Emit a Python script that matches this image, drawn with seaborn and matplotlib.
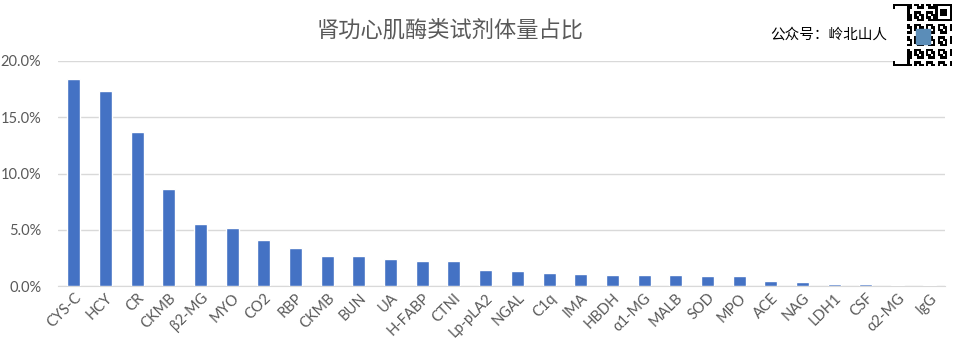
import numpy as np
import pandas as pd
import matplotlib
matplotlib.use("Agg")
import matplotlib.pyplot as plt
import seaborn as sns
from matplotlib.ticker import PercentFormatter

items = ["CYS-C", "HCY", "CR", "CKMB", "β2-MG", "MYO", "CO2", "RBP", "CKMB ", "BUN",
         "UA", "H-FABP", "CTNI", "Lp-pLA2", "NGAL", "C1q", "IMA", "HBDH", "α1-MG", "MALB",
         "SOD", "MPO", "ACE", "NAG", "LDH1", "CSF", "α2-MG", "IgG"]
share = [18.4, 17.3, 13.7, 8.6, 5.5, 5.2, 4.1, 3.4, 2.7, 2.7,
         2.4, 2.2, 2.2, 1.44, 1.35, 1.17, 1.08, 0.99, 0.99, 0.99,
         0.9, 0.9, 0.45, 0.36, 0.18, 0.18, 0.09, 0.09]
yticks = [0, 5, 10, 15, 20]

title = "肾功心肌酶类试剂体量占比"
credit = "公众号：岭北山人"

BAR = "#4472C4"
GREY = "#595959"
GRID = "#D9D9D9"

sns.set_style("white")
plt.rcParams["font.family"] = ["Lato", "DejaVu Sans"]

df = pd.DataFrame({"item": items, "share": share})

fig = plt.figure(figsize=(9.62, 3.59), dpi=100)
ax = fig.add_axes([58 / 962, 1 - 286 / 359, (945 - 58) / 962, (286 - 61) / 359])

sns.barplot(data=df, x="item", y="share", color=BAR, width=0.41,
            saturation=1, ax=ax, zorder=3)

ax.set_ylim(0, 20)
ax.set_yticks(yticks)
ax.yaxis.set_major_formatter(PercentFormatter(100, decimals=1))
ax.set_xlim(-0.5, len(items) - 0.5)
ax.grid(axis="y", color=GRID, lw=1, zorder=0)
for side in ["top", "right", "left"]:
    ax.spines[side].set_visible(False)
ax.spines["bottom"].set_color(GRID)
ax.spines["bottom"].set_zorder(1)
ax.set_xlabel("")
ax.set_ylabel("")
ax.tick_params(axis="both", length=0, colors=GREY, labelsize=10.5)
ax.tick_params(axis="y", pad=12)
ax.set_xticks(range(len(items)))
ax.set_xticklabels([s.strip() for s in items], rotation=45, ha="right",
                   rotation_mode="anchor")

fig.text(450 / 962, 1 - 30 / 359, title, ha="center", va="center",
         fontsize=16, color=GREY, family=["Noto Sans CJK SC", "DejaVu Sans"])

fig.text(829 / 962, 1 - 35 / 359, credit, ha="center", va="center",
         fontsize=10.5, color="black", family=["Noto Sans CJK SC", "DejaVu Sans"],
         bbox=dict(facecolor="white", edgecolor="none", pad=14))

# small QR-style badge in the corner
qax = fig.add_axes([893 / 962, 1 - 66 / 359, 58 / 962, 62 / 359])
n = 25
grid = np.zeros((n, n))
ii, jj = np.meshgrid(np.arange(n), np.arange(n), indexing="ij")
grid[((ii * 7 + jj * 3 + ii * jj) % 5) < 3] = 1
for (r, c) in [(0, 0), (0, n - 7), (n - 7, 0)]:
    grid[r:r + 7, c:c + 7] = 1
    grid[r + 1:r + 6, c + 1:c + 6] = 0
    grid[r + 2:r + 5, c + 2:c + 5] = 1
qax.imshow(grid, cmap="Greys", interpolation="nearest", aspect="auto")
qax.add_patch(plt.Rectangle((9.5, 9.5), 6, 6, color="#5B8DB8"))
qax.axis("off")

fig.savefig("out.png", dpi=100)
